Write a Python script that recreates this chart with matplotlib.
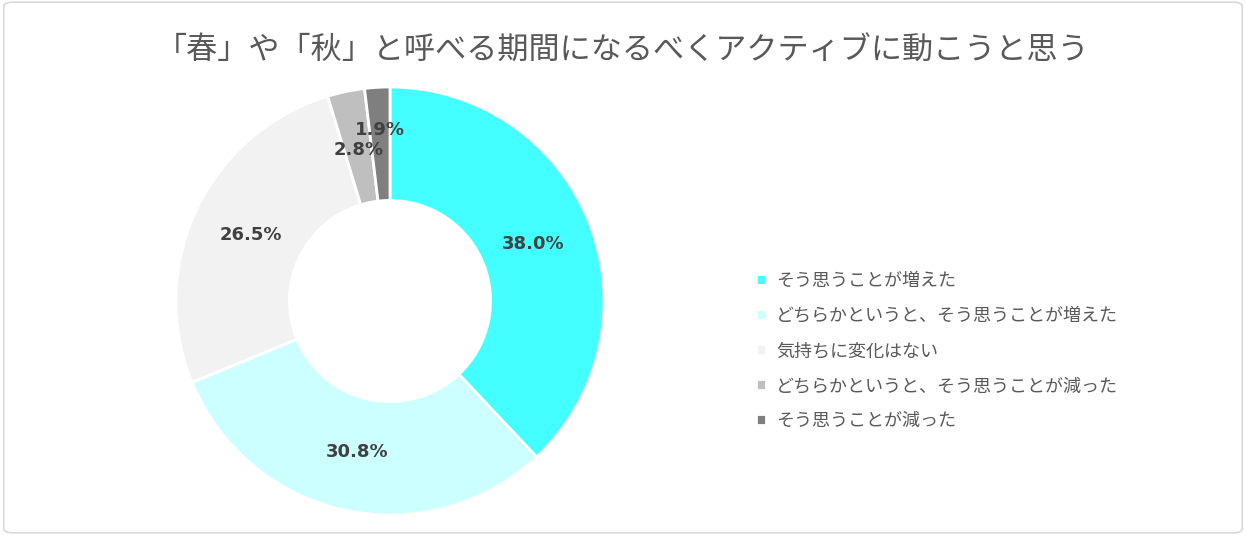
import numpy as np
import matplotlib.pyplot as plt
from matplotlib.patches import FancyBboxPatch

plt.rcParams['font.family'] = ['Noto Sans CJK JP', 'DejaVu Sans']

title = '「春」や「秋」と呼べる期間になるべくアクティブに動こうと思う'
categories = ['そう思うことが増えた',
              'どちらかというと、そう思うことが増えた',
              '気持ちに変化はない',
              'どちらかというと、そう思うことが減った',
              'そう思うことが減った']
values = [38.0, 30.8, 26.5, 2.8, 1.9]
colors = ['#44FFFF', '#CCFFFF', '#F2F2F2', '#BFBFBF', '#7F7F7F']

fig = plt.figure(figsize=(12.46, 5.35), dpi=100)

# light rounded frame around the whole chart
frame = FancyBboxPatch((0.003, 0.004), 0.994, 0.992, boxstyle='round,pad=0,rounding_size=0.008',
                       transform=fig.transFigure, facecolor='none', edgecolor='#D9D9D9',
                       linewidth=1.2, zorder=-1)
fig.patches.append(frame)

fig.text(0.5, 0.905, title, ha='center', va='center', fontsize=22.4, color='#595959')

# pie centre ~ (390, 301) px, outer radius ~213 px
ax = fig.add_axes([(390 - 214) / 1246, 1 - (301 + 214) / 535, 428 / 1246, 428 / 535])
wedges, _ = ax.pie(values, colors=colors, startangle=90, counterclock=False, radius=1.0,
                   wedgeprops=dict(width=0.53, edgecolor='white', linewidth=2))
ax.set_xlim(-1, 1)
ax.set_ylim(-1, 1)
ax.set_aspect('equal')
ax.axis('off')

start = 90.0
for i, v in enumerate(values):
    mid = np.deg2rad(start - v * 3.6 / 2)
    start -= v * 3.6
    r = 0.80 if i == len(values) - 1 else 0.72  # last tiny slice label pushed out a bit
    x, y = r * np.cos(mid), r * np.sin(mid)
    ax.text(x, y, f'{v:.1f}%', ha='center', va='center', fontsize=13,
            fontweight='bold', color='#404040', family=['DejaVu Sans'])

leg = fig.legend(wedges, categories, loc='center left', bbox_to_anchor=(740 / 1246, 1 - 351 / 535),
                 frameon=False, fontsize=13, labelcolor='#595959', handlelength=0.55, handleheight=0.55,
                 handletextpad=0.55, labelspacing=0.95)

fig.savefig('out.png', dpi=100)
